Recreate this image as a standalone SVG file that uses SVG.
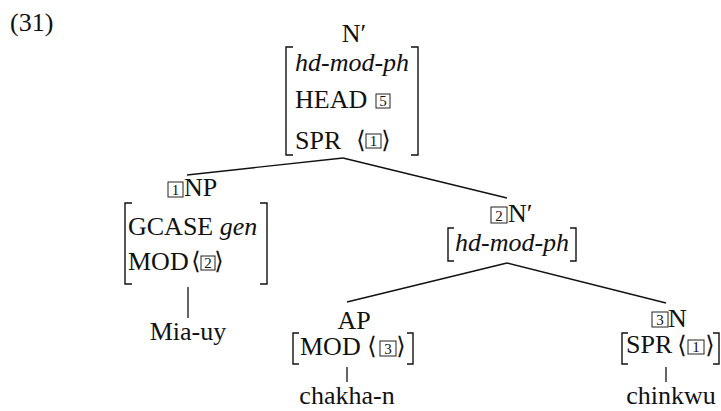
<svg xmlns="http://www.w3.org/2000/svg" width="721" height="411" viewBox="0 0 721 411">
<defs>
<style>
text{font-family:"Liberation Serif","DejaVu Serif",serif;font-size:26px;fill:#111}
.it{font-style:italic}
.mid{text-anchor:middle}
.tag{font-size:15px;text-anchor:middle}
.ang{font-family:"DejaVu Serif","Liberation Serif",serif;font-size:24px;text-anchor:middle}
.box{fill:none;stroke:#222;stroke-width:1}
.br{fill:none;stroke:#111;stroke-width:1.4}
.edge{stroke:#111;stroke-width:1.3;fill:none}
</style>
</defs>
<rect width="721" height="411" fill="#fff"/>
<text x="10" y="31">(31)</text>
<g id="connectors">
<line class="edge" x1="343" y1="158" x2="187" y2="175"/>
<line class="edge" x1="343" y1="158" x2="507" y2="198"/>
<line class="edge" x1="188" y1="287" x2="188" y2="318"/>
<line class="edge" x1="507" y1="263" x2="347" y2="302"/>
<line class="edge" x1="507" y1="263" x2="666" y2="303"/>
<line class="edge" x1="347" y1="367" x2="347" y2="382"/>
<line class="edge" x1="666" y1="367" x2="666" y2="382"/>
</g>
<g id="n0">
<text class="mid" x="354" y="42">N′</text>
<path class="br" d="M293,47H286V155H293"/>
<path class="br" d="M411,47H418V155H411"/>
<text class="it" x="295" y="71">hd-mod-ph</text>
<text x="295" y="108">HEAD</text>
<rect class="box" x="376" y="94" width="14" height="14"/>
<text class="tag" x="383" y="106">5</text>
<text x="295" y="149">SPR</text>
<text class="ang" x="361" y="148">⟨</text>
<rect class="box" x="366" y="134" width="15" height="14"/>
<text class="tag" x="373.5" y="146">1</text>
<text class="ang" x="386" y="148">⟩</text>
</g>
<g id="n1">
<rect class="box" x="168" y="182" width="15" height="15"/>
<text class="tag" x="175.5" y="195">1</text>
<text x="184" y="196">NP</text>
<path class="br" d="M132,203H125V284H132"/>
<path class="br" d="M260,203H267V284H260"/>
<text x="128" y="235">GCASE <tspan class="it">gen</tspan></text>
<text x="128" y="270">MOD</text>
<text class="ang" x="196" y="269">⟨</text>
<rect class="box" x="201" y="256" width="14" height="14"/>
<text class="tag" x="208" y="268">2</text>
<text class="ang" x="219" y="269">⟩</text>
<text class="mid" x="188" y="340">Mia-uy</text>
</g>
<g id="n2">
<rect class="box" x="491" y="207" width="16" height="16"/>
<text class="tag" x="499" y="221">2</text>
<text x="508" y="222">N′</text>
<path class="br" d="M454,228H448V261H454"/>
<path class="br" d="M570,228H576V261H570"/>
<text class="it" x="455" y="251">hd-mod-ph</text>
</g>
<g id="n3">
<text class="mid" x="354" y="329">AP</text>
<path class="br" d="M299,333H293V364H299"/>
<path class="br" d="M407,333H413V364H407"/>
<text x="300" y="355">MOD</text>
<text class="ang" x="372" y="354">⟨</text>
<rect class="box" x="380" y="341" width="16" height="15"/>
<text class="tag" x="388" y="354">3</text>
<text class="ang" x="401" y="354">⟩</text>
<text class="mid" x="347" y="404">chakha-n</text>
</g>
<g id="n4">
<rect class="box" x="652" y="312" width="16" height="15"/>
<text class="tag" x="660" y="325">3</text>
<text x="668" y="327">N</text>
<path class="br" d="M628,333H622V364H628"/>
<path class="br" d="M713,333H719V364H713"/>
<text x="626" y="353">SPR</text>
<text class="ang" x="682" y="353">⟨</text>
<rect class="box" x="688" y="340" width="16" height="14"/>
<text class="tag" x="696" y="352">1</text>
<text class="ang" x="710" y="353">⟩</text>
<text class="mid" x="671" y="404">chinkwu</text>
</g>
</svg>
